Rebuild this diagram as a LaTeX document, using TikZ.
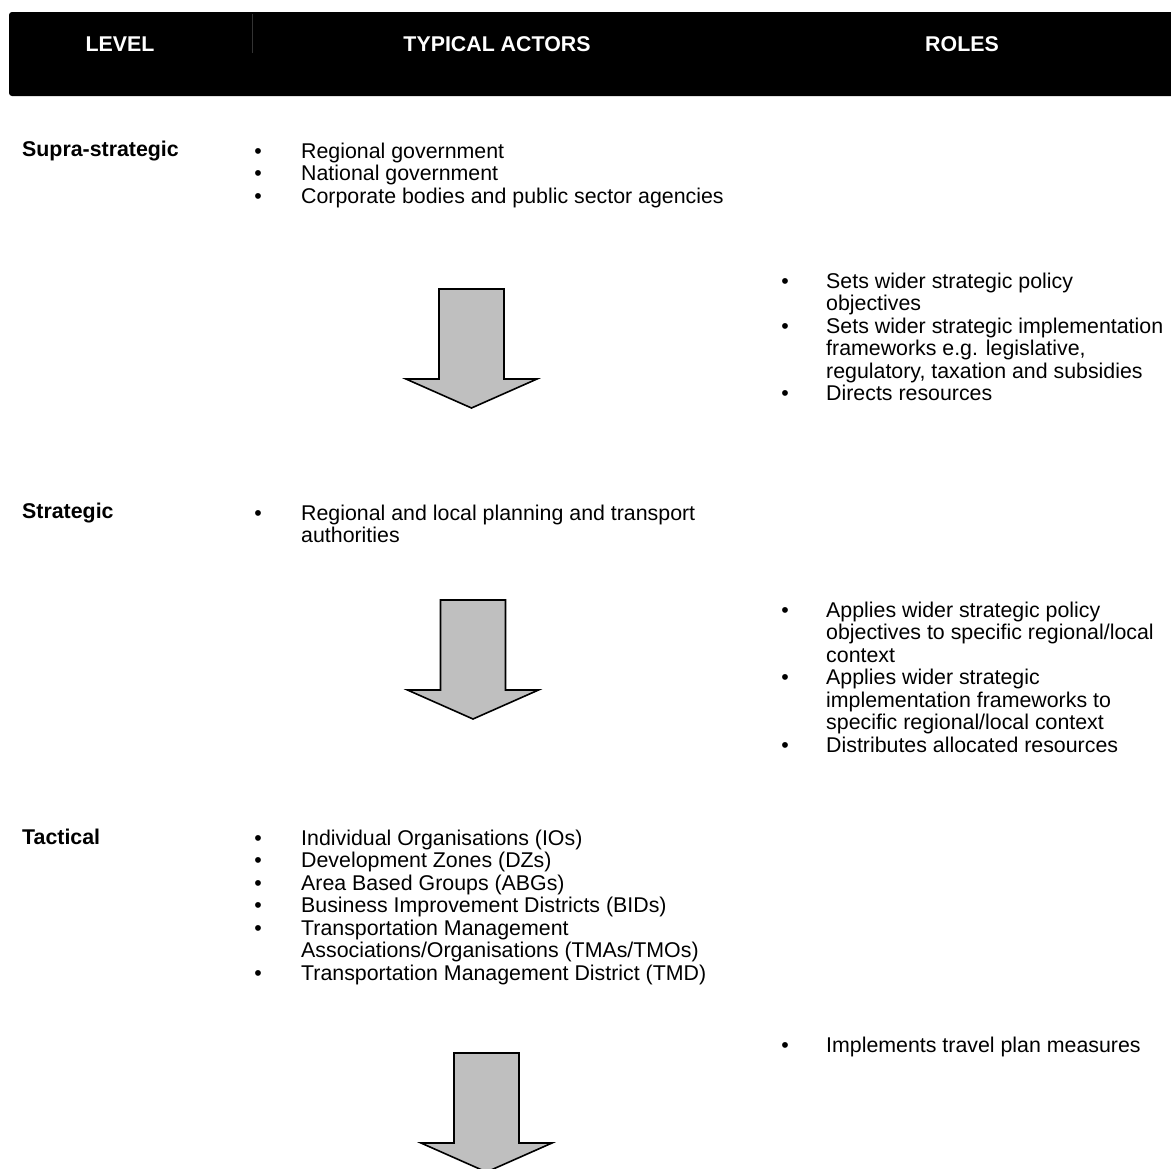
\documentclass[tikz,border=0pt]{standalone}
\usepackage{fontspec}
\setmainfont{Liberation Sans}
\begin{document}
\begin{tikzpicture}[x=1bp,y=-1bp,
  txt/.style={anchor=base west,inner sep=0pt,font=\fontsize{21.35bp}{23bp}\selectfont},
  lvl/.style={txt,font=\fontsize{21.35bp}{23bp}\selectfont\bfseries},
  hdr/.style={anchor=base,inner sep=0pt,text=white,font=\fontsize{21.35bp}{23bp}\selectfont\bfseries},
  bul/.style={anchor=base,inner sep=0pt,font=\fontsize{21.35bp}{23bp}\selectfont},
  arrowbox/.style={draw=black,line width=1.6bp,fill=black!25,line join=miter}]
\useasboundingbox (0,0) rectangle (1171,1169);
\clip (0,0) rectangle (1171,1169);
% header
\fill[black,rounded corners=3bp] (9,12) rectangle (1190,96);
\draw[black!80,line width=0.8bp] (252,14) -- (252,53);
\node[hdr] (hlevel) at (120,51) {LEVEL};
\node[hdr] (hactors) at (497,51) {TYPICAL ACTORS};
\node[hdr] (hroles) at (962,51) {ROLES};
% arrows
\newcommand\bigdownarrow[2]{%
  \draw[arrowbox] (#1-32.5,#2) -- (#1+32.5,#2) -- (#1+32.5,#2+90) -- (#1+65.5,#2+90)
    -- (#1,#2+119) -- (#1-65.5,#2+90) -- (#1-32.5,#2+90) -- cycle;}
\bigdownarrow{471.5}{289}
\bigdownarrow{473}{600}
\bigdownarrow{486.5}{1053}
% Supra-strategic
\node[lvl] (l1) at (22,156) {Supra-strategic};
\node[bul] (b11) at (258,158) {•};
\node[txt] (t11) at (301,158) {Regional government};
\node[bul] (b12) at (258,180.5) {•};
\node[txt] (t12) at (301,180.5) {National government};
\node[bul] (b13) at (258,203) {•};
\node[txt] (t13) at (301,203) {Corporate bodies and public sector agencies};
% roles 1
\node[bul] (rb11) at (785,288) {•};
\node[txt] (r11a) at (826,288) {Sets wider strategic policy};
\node[txt] (r11b) at (826,310.5) {objectives};
\node[bul] (rb12) at (785,333) {•};
\node[txt] (r12a) at (826,333) {Sets wider strategic implementation};
\node[txt] (r12b) at (826,355.5) {frameworks e.g. legislative,};
\node[txt] (r12c) at (826,378) {regulatory, taxation and subsidies};
\node[bul] (rb13) at (785,400.5) {•};
\node[txt] (r13) at (826,400.5) {Directs resources};
% Strategic
\node[lvl] (l2) at (22,518) {Strategic};
\node[bul] (b21) at (258,520) {•};
\node[txt] (t21a) at (301,520) {Regional and local planning and transport};
\node[txt] (t21b) at (301,542.5) {authorities};
% roles 2
\node[bul] (rb21) at (785,617) {•};
\node[txt] (r21a) at (826,617) {Applies wider strategic policy};
\node[txt] (r21b) at (826,639.5) {objectives to specific regional/local};
\node[txt] (r21c) at (826,662) {context};
\node[bul] (rb22) at (785,684.5) {•};
\node[txt] (r22a) at (826,684.5) {Applies wider strategic};
\node[txt] (r22b) at (826,707) {implementation frameworks to};
\node[txt] (r22c) at (826,729.5) {specific regional/local context};
\node[bul] (rb23) at (785,752) {•};
\node[txt] (r23) at (826,752) {Distributes allocated resources};
% Tactical
\node[lvl] (l3) at (22,844) {Tactical};
\node[bul] (b31) at (258,845) {•};
\node[txt] (t31) at (301,845) {Individual Organisations (IOs)};
\node[bul] (b32) at (258,867.5) {•};
\node[txt] (t32) at (301,867.5) {Development Zones (DZs)};
\node[bul] (b33) at (258,890) {•};
\node[txt] (t33) at (301,890) {Area Based Groups (ABGs)};
\node[bul] (b34) at (258,912.5) {•};
\node[txt] (t34) at (301,912.5) {Business Improvement Districts (BIDs)};
\node[bul] (b35) at (258,935) {•};
\node[txt] (t35a) at (301,935) {Transportation Management};
\node[txt] (t35b) at (301,957.5) {Associations/Organisations (TMAs/TMOs)};
\node[bul] (b36) at (258,980) {•};
\node[txt] (t36) at (301,980) {Transportation Management District (TMD)};
% roles 3
\node[bul] (rb31) at (785,1052) {•};
\node[txt] (r31) at (826,1052) {Implements travel plan measures};
\end{tikzpicture}
\end{document}
